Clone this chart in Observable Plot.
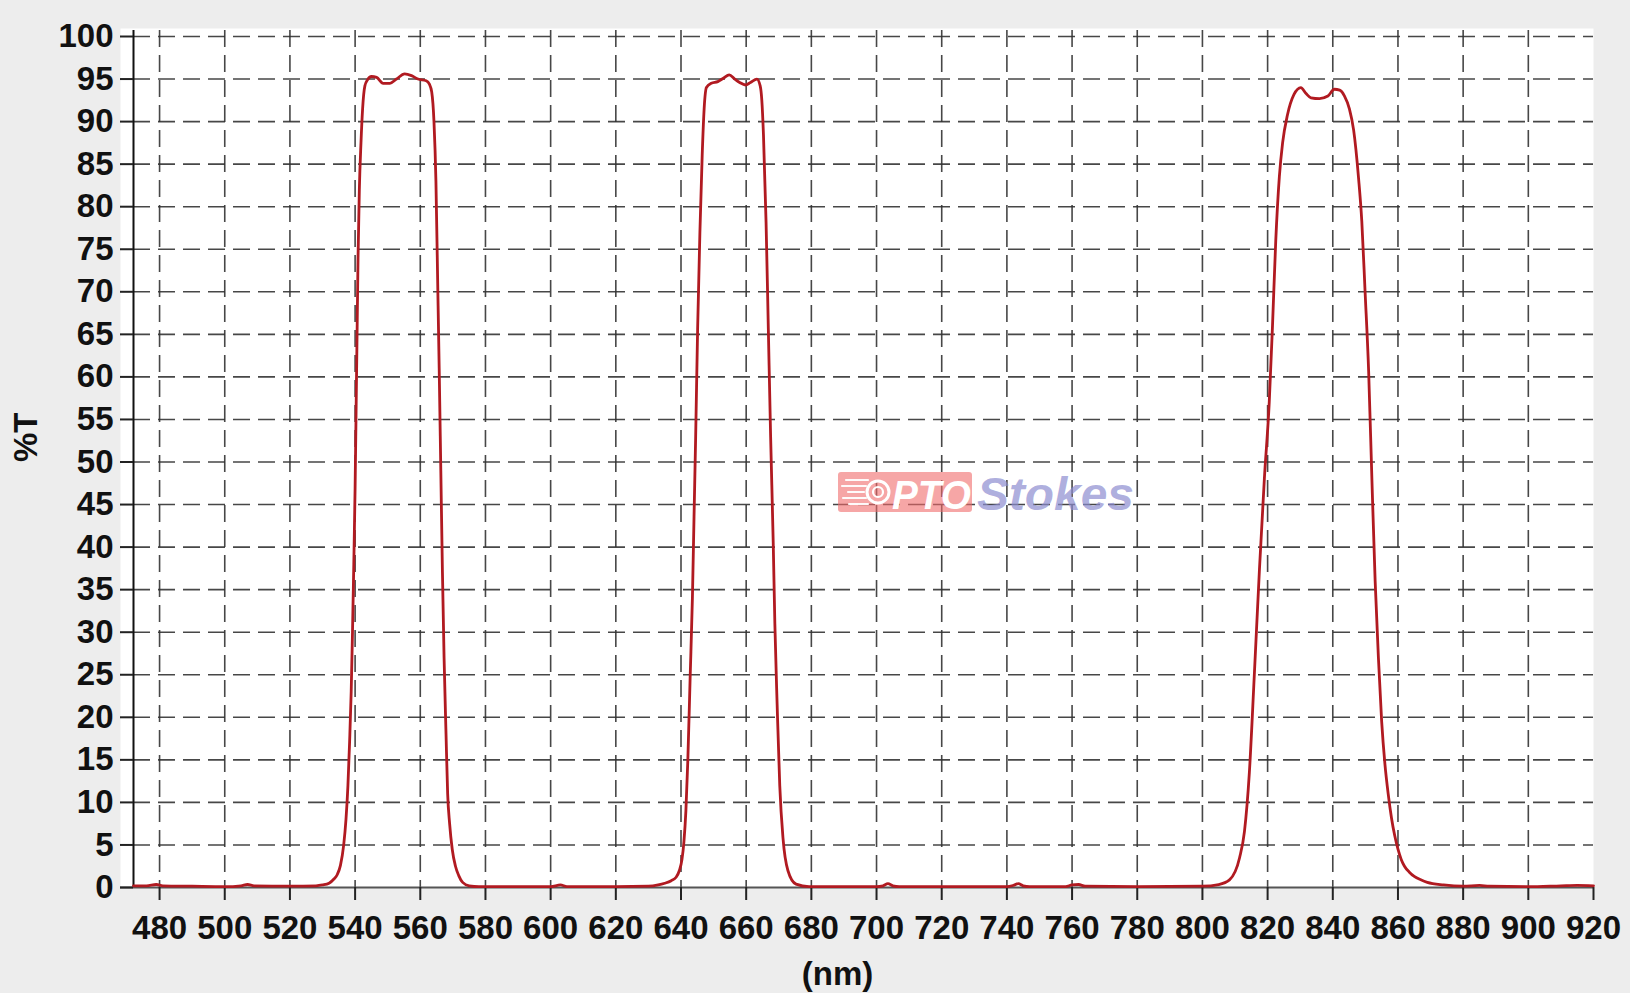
<!DOCTYPE html>
<html>
<head>
<meta charset="utf-8">
<script src="https://cdn.jsdelivr.net/npm/d3@7"></script>
<script src="https://cdn.jsdelivr.net/npm/@observablehq/plot@0.6"></script>
<style>
  html, body { margin: 0; padding: 0; background: #ffffff; }
  #wrap { position: relative; width: 1630px; height: 993px; }
  #wm { position: absolute; left: 0; top: 0; pointer-events: none; }
</style>
</head>
<body>
<div id="wrap"></div>
<script>
// ---- data ----
const wavelengths = [
  472, 476, 479, 481, 490, 500, 505, 507, 509, 520, 528, 530, 532,
  533.5, 534.5, 535.5, 536.5, 537.2, 537.8, 538.3, 538.8, 539.2, 539.6, 540, 540.3, 540.6, 540.9, 541.3, 541.8, 542.3, 543,
  543.8, 545, 546.6, 548.6, 550.7, 552.7, 555.2, 557.3, 559.3, 561.8, 562.8,
  563.5, 564.2, 564.8, 565.3, 565.8, 566.3, 566.8, 567.3, 567.9, 568.4, 569, 569.8, 570.8, 571.8, 573, 575, 578,
  590, 600, 603, 605, 620, 630, 633, 635, 637, 638.5, 639.5,
  640.3, 640.9, 641.5, 642.1, 642.8, 643.5, 644, 644.5, 645.1, 645.8, 646.5, 647.1, 647.8,
  649.3, 651.3, 653, 654.8, 656.5, 658, 659.8, 661.3, 663.3, 664.3,
  664.8, 665.3, 666.1, 666.8, 667.5, 668.3, 668.8, 669.5, 670.3, 671.3, 672.8, 675.3, 679.3,
  690, 700, 702, 703.5, 705, 707, 720, 740, 742, 743.5, 745, 747, 758, 760, 762, 764, 780, 800, 805,
  808.3, 811.4, 812.9, 814.4, 815.9, 817.5, 819, 820.5, 821.5, 822.5, 823.6, 824.6, 826.1, 828.1,
  830.2, 831.8, 833.3, 835.9, 838.5, 840.5, 842.1, 843.6, 845.1,
  846.4, 847.9, 848.9, 849.9, 851, 852, 853, 854, 855, 856, 857, 858, 859, 860, 861, 862, 863.5, 865, 867, 869, 874, 880,
  885, 888, 900, 910, 915, 920
];
const transmission = [
  0.2, 0.2, 0.35, 0.2, 0.15, 0.1, 0.2, 0.35, 0.2, 0.15, 0.2, 0.3, 0.5,
  1.0, 1.5, 2.6, 5.0, 8.0, 12, 17, 23, 30, 38, 47, 56, 65, 74, 82, 87.5, 91.5, 94.2,
  94.9, 95.3, 95.2, 94.5, 94.5, 95.0, 95.6, 95.4, 95.0, 94.8, 94.4,
  93.5, 90, 83, 72, 61, 49, 37, 27, 18, 11, 7.5, 4.5, 2.5, 1.4, 0.6, 0.2, 0.1,
  0.1, 0.1, 0.3, 0.1, 0.1, 0.15, 0.3, 0.5, 0.8, 1.2, 2.0,
  3.3, 5.4, 9.0, 15, 24.6, 34, 43.6, 53, 65.6, 77, 86, 91.5, 94.0,
  94.5, 94.7, 95.1, 95.5, 95.0, 94.6, 94.3, 94.6, 95.0, 94.2,
  92.5, 88.5, 78.2, 65.6, 53, 40.5, 31, 21.5, 12, 5.8, 2.0, 0.4, 0.1,
  0.1, 0.1, 0.2, 0.45, 0.2, 0.1, 0.1, 0.1, 0.25, 0.45, 0.2, 0.1, 0.1, 0.3, 0.35, 0.15, 0.1, 0.15, 0.35,
  0.9, 3.5, 6.6, 13.5, 24.8, 37.4, 48, 57, 66, 76, 83.5, 87.5, 90.8, 93.2,
  94.0, 93.3, 92.8, 92.7, 93.0, 93.8, 93.7, 93.0, 91.5,
  89, 83.4, 78.3, 70.1, 60.7, 48, 36, 27, 19.5, 14.5, 11, 8.2, 6.1, 4.5, 3.3, 2.5, 1.8, 1.3, 0.9, 0.6, 0.3, 0.15,
  0.25, 0.15, 0.1, 0.2, 0.25, 0.2
];
const xDomain = [472, 920];
const yDomain = [0, 100];
const xTicks = d3.range(480, 921, 20);
const yTicks = d3.range(0, 101, 5);
const xLabel = "(nm)";
const yLabel = "%T";

const data = wavelengths.map((w, i) => ({w, t: transmission[i]}));

const font = "'Liberation Sans', Arial, Helvetica, sans-serif";
const gridStyle = {stroke: "#333", strokeOpacity: 0.9, strokeWidth: 1.6, strokeDasharray: "17,8"};

const chart = Plot.plot({
  width: 1630,
  height: 993,
  marginLeft: 133,
  marginRight: 37,
  marginTop: 36,
  marginBottom: 106,
  x: {domain: xDomain},
  y: {domain: yDomain},
  style: {background: "#ededed", fontFamily: font, fontSize: "33px", fontWeight: "bold", color: "#111", overflow: "visible"},
  marks: [
    Plot.frame({fill: "white", stroke: null, insetLeft: -13, insetTop: -8}),
    Plot.gridY(yTicks.filter(v => v > 0), gridStyle),
    Plot.gridX(xTicks.filter(v => v < 920), {...gridStyle, insetTop: -6}),
    Plot.ruleY([yDomain[0]], {stroke: "#555", strokeWidth: 2, insetLeft: -13}),
    Plot.ruleX([xDomain[0]], {stroke: "#111", strokeWidth: 2, insetTop: -6}),
    Plot.axisY(yTicks, {tickSize: 13, tickPadding: 7, label: null, strokeWidth: 2, stroke: "#222"}),
    Plot.axisX(xTicks, {tickSize: 13, tickPadding: 15, label: null, strokeWidth: 2, stroke: "#222"}),
    Plot.line(data, {x: "w", y: "t", stroke: "#b11a21", strokeWidth: 2.8, curve: "monotone-x"}),
    Plot.text([xLabel], {frameAnchor: "bottom", dy: 87, dx: -26, text: d => d, fontSize: 33, fontWeight: "bold", fill: "#111", lineAnchor: "middle"}),
    Plot.text([yLabel], {frameAnchor: "left", dx: -107, text: d => d, rotate: -90, fontSize: 33, fontWeight: "bold", fill: "#111"})
  ]
});

const wrap = document.getElementById("wrap");
wrap.appendChild(chart);

// watermark overlay
const ns = "http://www.w3.org/2000/svg";
const wm = document.createElementNS(ns, "svg");
wm.setAttribute("id", "wm");
wm.setAttribute("width", 1630);
wm.setAttribute("height", 993);
wm.innerHTML = `
  <rect x="838" y="472" width="134" height="40" rx="3" fill="#f06a6a" fill-opacity="0.6"></rect>
  <g stroke="#fff" stroke-width="2.2" stroke-linecap="round" opacity="0.95">
    <line x1="846" y1="480" x2="868" y2="480"></line>
    <line x1="842" y1="486" x2="866" y2="486"></line>
    <line x1="848" y1="492" x2="864" y2="492"></line>
    <line x1="843" y1="498" x2="866" y2="498"></line>
    <line x1="849" y1="504" x2="868" y2="504"></line>
  </g>
  <circle cx="878" cy="492" r="11" fill="none" stroke="#fff" stroke-width="3"></circle>
  <circle cx="878" cy="492" r="5" fill="none" stroke="#fff" stroke-width="2.2"></circle>
  <text x="892" y="509" font-family="${font}" font-size="40" font-weight="bold" font-style="italic" fill="#fff" textLength="79" lengthAdjust="spacingAndGlyphs">PTO</text>
  <text x="977" y="510" font-family="${font}" font-size="46" font-weight="bold" font-style="italic" fill="#8c8cd0" fill-opacity="0.7" textLength="157" lengthAdjust="spacingAndGlyphs">Stokes</text>
`;
wrap.appendChild(wm);
</script>
</body>
</html>
